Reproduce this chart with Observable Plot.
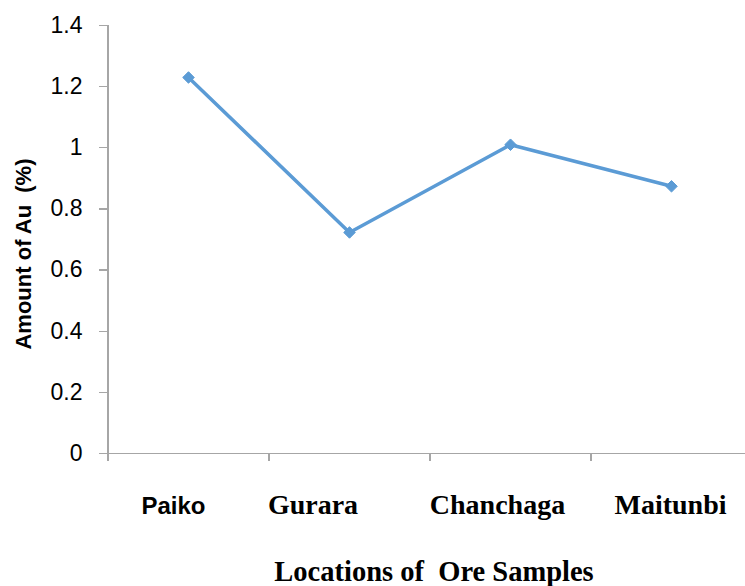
<!DOCTYPE html>
<html>
<head>
<meta charset="utf-8">
<script src="https://cdn.jsdelivr.net/npm/d3@7"></script>
<script src="https://cdn.jsdelivr.net/npm/@observablehq/plot@0.6"></script>
<style>
  html, body { margin: 0; padding: 0; background: #fff; }
  svg text { white-space: pre; }
</style>
</head>
<body>
<div id="chart"></div>
<script>
const categories = ["Paiko", "Gurara", "Chanchaga", "Maitunbi"];
const auValues = [1.23, 0.723, 1.01, 0.874];
const yTicks = [0, 0.2, 0.4, 0.6, 0.8, 1, 1.2, 1.4];
const yTitle = "Amount of Au  (%)";
const xTitle = "Locations of  Ore Samples";

const data = categories.map((c, i) => ({location: c, value: auValues[i]}));

const axisGray = "#a6a6a6";
const lineBlue = "#5b9bd5";
const serif = "'Liberation Serif', 'Times New Roman', serif";
const sans = "'Liberation Sans', Arial, sans-serif";
const tickLen = 8 / 305.7;
const halfStep = 80.5;

const labelStyles = [
  {font: sans, size: 24, dx: -15},
  {font: serif, size: 28, dx: -36.5},
  {font: serif, size: 28, dx: -13},
  {font: serif, size: 28, dx: -1}
];

const labelMarks = categories.map((c, i) => Plot.text([c], {
  x: d => d, y: 0, dy: 60, lineAnchor: "bottom",
  dx: labelStyles[i].dx,
  fontFamily: labelStyles[i].font, fontSize: labelStyles[i].size,
  fontWeight: "bold", fill: "black"
}));

const chart = Plot.plot({
  width: 745,
  height: 586,
  marginLeft: 107,
  marginRight: 0,
  marginTop: 25,
  marginBottom: 133,
  style: {fontFamily: sans, fontSize: "22px", background: "white", overflow: "visible"},
  x: {type: "point", domain: categories, range: [107, 751], padding: 0.5, axis: null},
  y: {domain: [0, 1.4], range: [453, 25], axis: null},
  marks: [
    Plot.ruleY([0], {stroke: axisGray, strokeWidth: 1.3, shapeRendering: "crispEdges"}),
    Plot.ruleX([categories[0]], {x: d => d, dx: -halfStep, y1: -tickLen, y2: 1.4, stroke: axisGray, strokeWidth: 1.3, shapeRendering: "crispEdges"}),
    Plot.ruleX(categories.slice(1), {x: d => d, dx: -halfStep, y1: 0, y2: -tickLen, stroke: axisGray, strokeWidth: 1.3, shapeRendering: "crispEdges"}),
    Plot.axisY(yTicks, {tickSize: 8, tickFormat: () => "", label: null, stroke: axisGray, strokeWidth: 1.3, shapeRendering: "crispEdges"}),
    Plot.line(data, {x: "location", y: "value", stroke: lineBlue, strokeWidth: 3.5}),
    Plot.dot(data, {x: "location", y: "value", symbol: "diamond2", r: 5.2, fill: lineBlue, stroke: lineBlue, strokeWidth: 1}),
    Plot.text(yTicks, {y: d => d, frameAnchor: "left", dx: -25, text: d => String(d), textAnchor: "end", fontSize: 23, fontFamily: sans, fill: "black"}),
    ...labelMarks,
    Plot.text([yTitle], {frameAnchor: "left", textAnchor: "middle", rotate: -90, dx: -84, dy: 14.5, fontSize: 22, fontWeight: "bold", fontFamily: sans, fill: "black"}),
    Plot.text([xTitle], {frameAnchor: "bottom", textAnchor: "middle", dx: 7.5, dy: 127, lineAnchor: "bottom", fontSize: 28.5, fontWeight: "bold", fontFamily: serif, fill: "black"})
  ]
});
document.getElementById("chart").appendChild(chart);
</script>
</body>
</html>
